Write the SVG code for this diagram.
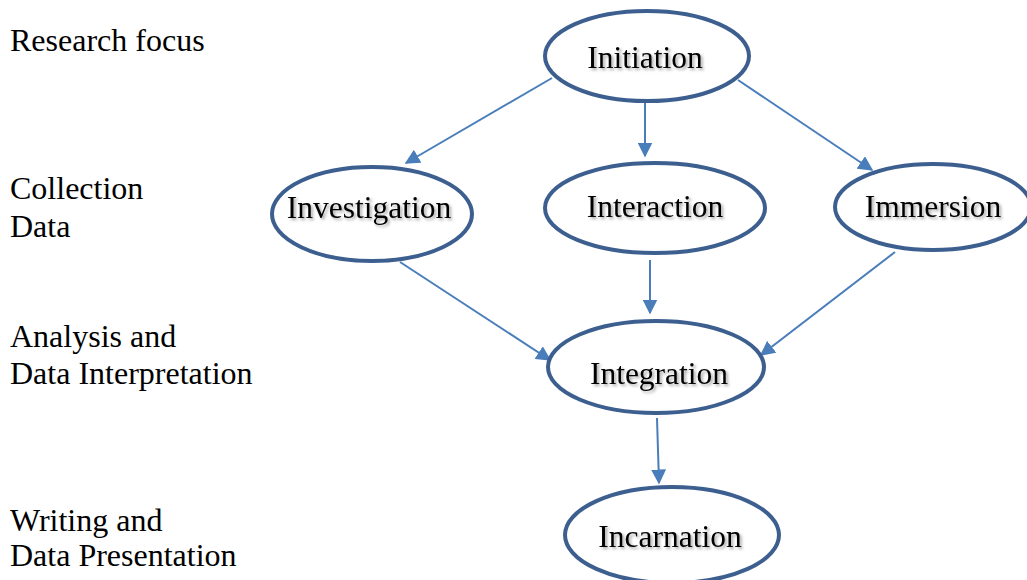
<svg xmlns="http://www.w3.org/2000/svg" width="1027" height="580" viewBox="0 0 1027 580">
<style>
.node{fill:#fff;stroke:#3c5f8f;stroke-width:4}
.nt{font-family:"Liberation Serif",serif;font-size:31.5px;fill:#000;text-anchor:middle;filter:url(#sh)}
.lbl{font-family:"Liberation Serif",serif;font-size:32px;fill:#000}
.conn{stroke:#4a7ebb;stroke-width:2;fill:none;marker-end:url(#ah)}
</style>
<defs>
<marker id="ah" viewBox="0 0 10 10" refX="9" refY="5" markerWidth="7.5" markerHeight="7.5" orient="auto" markerUnits="strokeWidth">
<path d="M0,0 L10,5 L0,10 z" fill="#4a7ebb"/>
</marker>
<filter id="sh" x="-10%" y="-30%" width="130%" height="170%">
<feDropShadow dx="2" dy="2" stdDeviation="1.5" flood-color="#000" flood-opacity="0.35"/>
</filter>
</defs>
<rect width="1027" height="580" fill="#fff"/>
<g id="labels">
<text class="lbl" x="10" y="51">Research focus</text>
<text class="lbl" x="10" y="199">Collection</text>
<text class="lbl" x="10" y="237">Data</text>
<text class="lbl" x="10" y="347">Analysis and</text>
<text class="lbl" x="10" y="384">Data Interpretation</text>
<text class="lbl" x="10" y="531">Writing and</text>
<text class="lbl" x="10" y="566">Data Presentation</text>
</g>
<g id="connectors">
<line class="conn" x1="552" y1="78" x2="406" y2="163"/>
<line class="conn" x1="645" y1="103" x2="645" y2="156"/>
<line class="conn" x1="738" y1="80" x2="872" y2="170"/>
<line class="conn" x1="400" y1="262" x2="550" y2="360"/>
<line class="conn" x1="650" y1="260" x2="650" y2="313"/>
<line class="conn" x1="895" y1="252" x2="761" y2="355"/>
<line class="conn" x1="657" y1="418" x2="659" y2="483"/>
</g>
<g id="initiation">
<ellipse class="node" cx="647" cy="56" rx="102" ry="45"/>
<text class="nt" x="645" y="68">Initiation</text>
</g>
<g id="investigation">
<ellipse class="node" cx="372" cy="214" rx="100" ry="47"/>
<text class="nt" x="369" y="218">Investigation</text>
</g>
<g id="interaction">
<ellipse class="node" cx="655" cy="208" rx="110" ry="45"/>
<text class="nt" x="655" y="217">Interaction</text>
</g>
<g id="immersion">
<ellipse class="node" cx="933" cy="207" rx="98" ry="43"/>
<text class="nt" x="933" y="217">Immersion</text>
</g>
<g id="integration">
<ellipse class="node" cx="656" cy="367" rx="108" ry="46"/>
<text class="nt" x="659" y="384">Integration</text>
</g>
<g id="incarnation">
<ellipse class="node" cx="672" cy="535" rx="107" ry="48"/>
<text class="nt" x="670" y="547">Incarnation</text>
</g>
</svg>
